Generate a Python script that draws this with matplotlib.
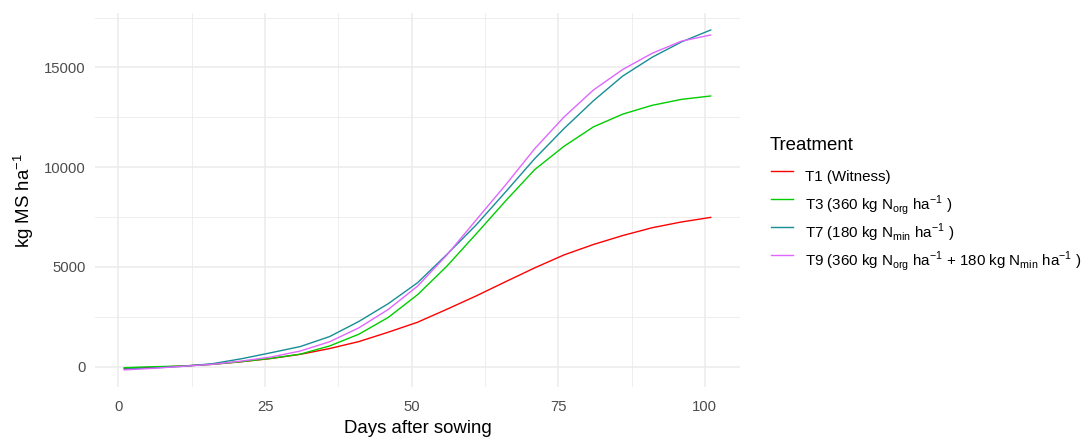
import matplotlib
matplotlib.use('Agg')
import matplotlib.pyplot as plt
from matplotlib.lines import Line2D
from matplotlib.ticker import MultipleLocator

plt.rcParams['font.family'] = ['Liberation Sans', 'DejaVu Sans']
plt.rcParams['mathtext.fontset'] = 'custom'
plt.rcParams['mathtext.rm'] = 'Liberation Sans'

# days after sowing
days = [1, 6, 11, 16, 21, 26, 31, 36, 41, 46, 51,
        56, 61, 66, 71, 76, 81, 86, 91, 96, 101]

# dry matter (kg MS / ha) per treatment
t1 = [-90, -40, 25, 110, 240, 400, 610, 900, 1250, 1720, 2220,
      2870, 3540, 4250, 4950, 5600, 6120, 6570, 6960, 7250, 7480]
t3 = [-60, -10, 25, 110, 245, 410, 620, 1030, 1620, 2460, 3600,
      5030, 6650, 8300, 9880, 11050, 12020, 12660, 13100, 13400, 13570]
t7 = [-130, -70, 10, 140, 390, 690, 1000, 1500, 2260, 3150, 4200,
      5620, 7100, 8750, 10430, 11940, 13330, 14570, 15510, 16280, 16880]
t9 = [-170, -90, 10, 110, 275, 475, 775, 1240, 1940, 2860, 4030,
      5590, 7350, 9100, 10930, 12520, 13870, 14900, 15710, 16320, 16630]

labels = [
    'T1 (Witness)',
    r'T3 (360 kg N$_\mathregular{org}$ ha$^\mathregular{-1}$ )',
    r'T7 (180 kg N$_\mathregular{min}$ ha$^\mathregular{-1}$ )',
    r'T9 (360 kg N$_\mathregular{org}$ ha$^\mathregular{-1}$ + 180 kg N$_\mathregular{min}$ ha$^\mathregular{-1}$ )',
]
colors = ['#FF0000', '#00CD00', '#178E96', '#E066FF']
series = [t1, t3, t7, t9]

W, H = 1088, 440
fig = plt.figure(figsize=(W / 100, H / 100), dpi=100)
ax = fig.add_axes([95 / W, 53 / H, 645 / W, 374 / H])

for vals, col, lab in zip(series, colors, labels):
    ax.plot(days, vals, color=col, lw=1.0, label=lab)

ax.set_xlim(-4, 106)
ax.set_ylim(-1028, 17733)
ax.xaxis.set_major_locator(MultipleLocator(25))
ax.xaxis.set_minor_locator(MultipleLocator(12.5))
ax.yaxis.set_major_locator(MultipleLocator(5000))
ax.yaxis.set_minor_locator(MultipleLocator(2500))

ax.grid(which='major', color='#EBEBEB', lw=1.1)
ax.grid(which='minor', color='#EBEBEB', lw=0.6)
ax.set_axisbelow(True)
for s in ax.spines.values():
    s.set_visible(False)
ax.tick_params(which='both', length=0, labelsize=10.7, labelcolor='#4D4D4D')
ax.tick_params(axis='x', pad=9.3)
ax.tick_params(axis='y', pad=6.5)

ax.set_xlabel('Days after sowing', fontsize=13.4, labelpad=4.5)
ax.set_ylabel(r'kg MS ha$^\mathregular{-1}$', fontsize=13.4, labelpad=6)

# legend drawn by hand so rows keep an even spacing despite the sub/superscripts
fig.text(770 / W, 1 - 149.5 / H, 'Treatment', fontsize=13.4, va='baseline')
for i, (col, lab) in enumerate(zip(colors, labels)):
    key_y = 171 + i * 28
    fig.add_artist(Line2D([771 / W, 793 / W], [1 - key_y / H] * 2,
                          color=col, lw=1.0, transform=fig.transFigure))
    fig.text(805 / W, 1 - (key_y + 10.5) / H, lab, fontsize=10.9, va='baseline')

fig.savefig('out.png', dpi=100)
